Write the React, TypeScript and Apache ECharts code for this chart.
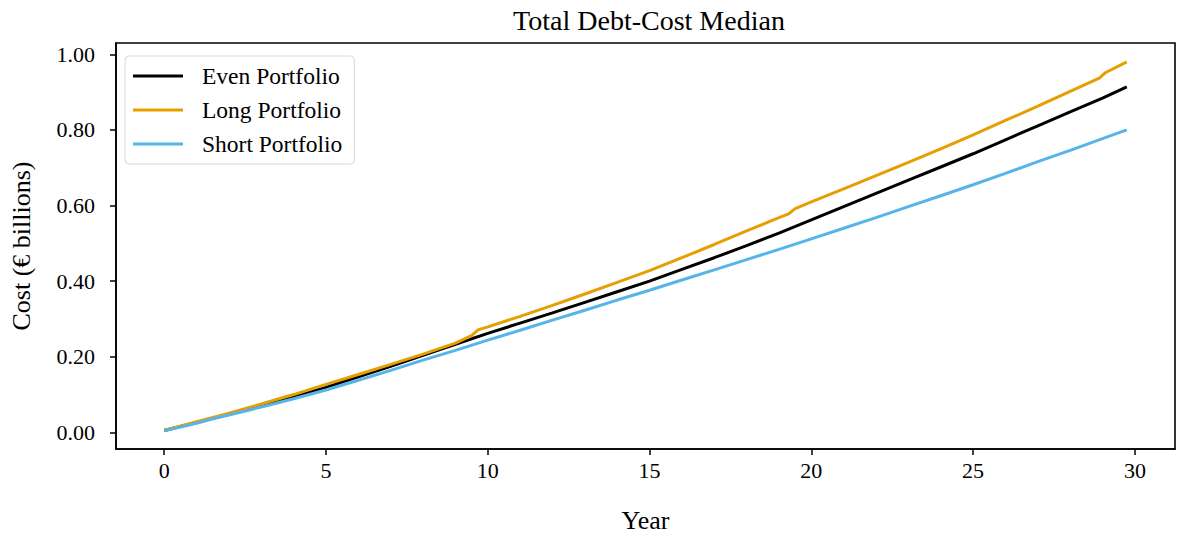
import React, { useEffect, useRef } from "react";
import * as echarts from "echarts";

const evenYears = [0, 1, 2, 3, 4, 5, 6, 7, 8, 9, 10, 11, 12, 13, 14, 15, 16, 17, 18, 19, 20, 21, 22, 23, 24, 25, 26, 27, 28, 29, 29.75];
const evenCost = [0.005, 0.026, 0.048, 0.07, 0.094, 0.119, 0.147, 0.175, 0.204, 0.233, 0.262, 0.289, 0.316, 0.344, 0.372, 0.4, 0.431, 0.462, 0.494, 0.527, 0.562, 0.597, 0.632, 0.667, 0.702, 0.737, 0.774, 0.811, 0.848, 0.884, 0.914];

const longYears = [0, 1, 2, 3, 4, 5, 6, 7, 8, 9, 9.5, 9.7, 10, 11, 12, 13, 14, 15, 16, 17, 18, 19, 19.3, 19.5, 20, 21, 22, 23, 24, 25, 26, 27, 28, 28.9, 29.1, 29.75];
const longCost = [0.005, 0.028, 0.051, 0.075, 0.1, 0.127, 0.153, 0.18, 0.207, 0.236, 0.256, 0.271, 0.279, 0.307, 0.336, 0.366, 0.397, 0.428, 0.462, 0.497, 0.533, 0.568, 0.578, 0.592, 0.61, 0.644, 0.679, 0.714, 0.75, 0.787, 0.825, 0.863, 0.902, 0.937, 0.952, 0.98];

const shortYears = [0, 1, 1.5, 2, 3, 4, 5, 6, 7, 8, 9, 10, 11, 12, 13, 14, 15, 16, 17, 18, 19, 20, 21, 22, 23, 24, 25, 26, 27, 28, 29, 29.75];
const shortCost = [0.004, 0.024, 0.036, 0.046, 0.067, 0.089, 0.112, 0.138, 0.164, 0.191, 0.217, 0.244, 0.27, 0.297, 0.323, 0.35, 0.376, 0.403, 0.43, 0.457, 0.484, 0.512, 0.54, 0.568, 0.597, 0.626, 0.655, 0.685, 0.716, 0.746, 0.777, 0.8];

const xTicks = [0, 5, 10, 15, 20, 25, 30];
const yTicks = [0, 0.2, 0.4, 0.6, 0.8, 1.0];

const zip = (xs: number[], ys: number[]) => xs.map((x, i) => [x, ys[i]]);

const FONT = "Liberation Serif";

export default function App() {
  const ref = useRef<HTMLDivElement>(null);
  useEffect(() => {
    if (!ref.current) return;
    const chart = echarts.init(ref.current, undefined, { renderer: "svg" });
    const mkSeries = (name: string, color: string, data: number[][]) => ({
      name,
      type: "line",
      data,
      showSymbol: false,
      symbol: "none",
      lineStyle: { color, width: 3 },
      itemStyle: { color },
    });
    chart.setOption({
      animation: false,
      backgroundColor: "#fff",
      textStyle: { fontFamily: FONT },
      title: {
        text: "Total Debt-Cost Median",
        left: 644,
        textAlign: "center",
        top: 1,
        textStyle: { fontFamily: FONT, fontSize: 28, fontWeight: "normal", color: "#000" },
      },
      legend: {
        orient: "vertical",
        left: 125,
        top: 56,
        padding: [8, 12, 8, 8],
        itemGap: 10,
        itemWidth: 50,
        itemHeight: 3,
        icon: "rect",
        borderColor: "#d9d9d9",
        borderWidth: 1,
        borderRadius: 4,
        backgroundColor: "rgba(255,255,255,0.8)",
        textStyle: { fontFamily: FONT, fontSize: 23.5, color: "#000", padding: [0, 0, 0, 14], lineHeight: 24 },
        data: ["Even Portfolio", "Long Portfolio", "Short Portfolio"],
      },
      grid: {
        left: 113,
        right: 2,
        top: 43,
        bottom: 88,
        show: true,
        borderColor: "#000",
        borderWidth: 1.6,
        backgroundColor: "transparent",
      },
      xAxis: {
        type: "value",
        min: -1.49,
        max: 31.24,
        name: "Year",
        nameLocation: "middle",
        nameGap: 58,
        nameTextStyle: { fontFamily: FONT, fontSize: 26, color: "#000" },
        axisLine: { show: true, onZero: false, lineStyle: { color: "#000", width: 1.6 } },
        axisTick: { show: true, inside: false, length: 6, customValues: xTicks, lineStyle: { color: "#000", width: 1.5 } },
        axisLabel: {
          customValues: xTicks,
          margin: 10,
          fontFamily: FONT,
          fontSize: 22,
          color: "#000",
          formatter: (v: number) => String(v),
        },
        splitLine: { show: false },
      },
      yAxis: {
        type: "value",
        min: -0.044,
        max: 1.03,
        name: "Cost (€ billions)",
        nameLocation: "middle",
        nameGap: 82,
        nameTextStyle: { fontFamily: FONT, fontSize: 26, color: "#000" },
        axisLine: { show: true, onZero: false, lineStyle: { color: "#000", width: 1.6 } },
        axisTick: { show: true, inside: false, length: 6, customValues: yTicks, lineStyle: { color: "#000", width: 1.5 } },
        axisLabel: {
          customValues: yTicks,
          margin: 21,
          fontFamily: FONT,
          fontSize: 22,
          color: "#000",
          formatter: (v: number) => v.toFixed(2),
        },
        splitLine: { show: false },
      },
      series: [
        mkSeries("Even Portfolio", "#000000", zip(evenYears, evenCost)),
        mkSeries("Long Portfolio", "#E69F00", zip(longYears, longCost)),
        mkSeries("Short Portfolio", "#56B4E9", zip(shortYears, shortCost)),
      ],
    });
    return () => chart.dispose();
  }, []);
  return (
    <div
      ref={ref}
      style={{ position: "fixed", left: 0, top: 0, width: 1177, height: 538, background: "#fff" }}
    />
  );
}
